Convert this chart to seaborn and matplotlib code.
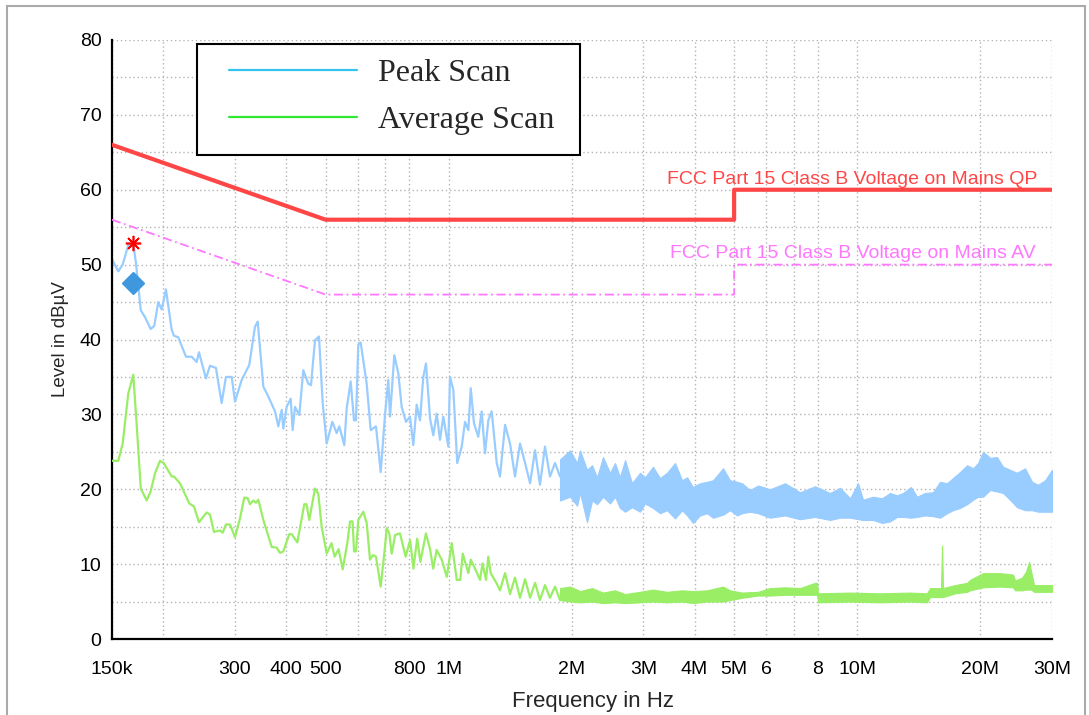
import numpy as np
import pandas as pd
import seaborn as sns
import matplotlib.pyplot as plt
from matplotlib.lines import Line2D
from matplotlib.patches import Rectangle

# --- data (frequency in kHz, level in dBuV) ---
peak_khz = [150, 155.4, 159.3, 164.4, 169.1, 171.7, 176.4, 180.6, 186.5, 190.3, 194.7, 198.5,
            203.3, 210, 212.7, 217.9, 227.6, 235, 241.7, 244.9, 254.7, 260.6, 269.5, 278.3,
            285.1, 294.5, 300, 311.6, 325.2, 335.8, 341, 352, 362, 375.9, 383, 390.4, 393.9,
            401.5, 410.7, 415.3, 420.8, 431.1, 440.9, 453.5, 460.5, 471, 481.7, 491.9, 503,
            519.2, 532.2, 540.1, 555.5, 563.1, 575.9, 586.7, 593.4, 601.1, 609.3, 630.3, 644.7,
            664.2, 682.1, 698.8, 711.9, 718.8, 736.4, 753.2, 767.7, 786.6, 804.5, 819.6, 835.5,
            851.2, 867.2, 880.5, 900.6, 917.5, 935.2, 952.8, 970.7, 998.4, 1008, 1027, 1050,
            1077, 1097, 1118, 1133, 1154, 1182, 1205, 1228, 1251, 1275, 1312, 1336, 1375, 1414,
            1454, 1496, 1539, 1583, 1628, 1674, 1722, 1771, 1822, 1874]
peak_db = [50.7, 49.1, 50.0, 52.6, 52.8, 50.2, 43.9, 43.0, 41.4, 41.8, 45.0, 44.0,
           46.7, 41.3, 40.5, 40.3, 37.7, 37.7, 37.0, 38.3, 34.8, 36.5, 36.2, 31.5,
           35.0, 35.0, 31.7, 34.6, 36.6, 41.7, 42.4, 33.7, 32.4, 30.4, 28.4, 30.6, 28.1,
           31.0, 32.1, 27.9, 31.0, 29.9, 35.9, 34.1, 33.9, 39.9, 40.4, 31.5, 26.1,
           29.0, 27.5, 28.4, 25.9, 30.8, 34.4, 29.2, 29.2, 39.3, 39.6, 34.1, 27.9,
           28.4, 22.3, 29.9, 34.6, 29.7, 37.9, 35.5, 31.0, 29.0, 29.7, 25.9, 31.3,
           29.2, 35.0, 36.8, 29.5, 27.2, 30.1, 26.6, 29.7, 25.7, 35.0, 33.3, 23.5,
           25.7, 29.0, 27.9, 33.5, 28.8, 27.0, 30.4, 24.8, 29.2, 30.4, 23.5, 21.7, 28.6, 26.1,
           21.7, 26.1, 23.5, 20.8, 25.2, 20.6, 25.7, 21.7, 23.5, 21.7]

# dense part of the peak scan (drawn as its lower / upper envelope)
peak_band_khz = [1874, 1983, 2063, 2098, 2182, 2245, 2309, 2388, 2484, 2555, 2627, 2704, 2812,
                 2941, 3026, 3165, 3292, 3426, 3583, 3729, 3836, 3966, 4125, 4291, 4439, 4697,
                 4886, 5082, 5227, 5469, 5720, 6122, 6663, 7248, 7890, 8585, 9082, 9611,
                 10054, 10341, 10941, 11508, 12039, 12522, 12954, 13553, 14019, 14666, 15342,
                 15960, 16602, 17174, 17865, 18585, 19227, 19776, 20340, 21170, 22000, 22770,
                 23680, 24630, 25770, 26810, 27730, 28850, 30000]
peak_band_lo = [18.5, 19.0, 17.8, 19.5, 15.6, 18.5, 18.0, 19.0, 18.1, 19.0, 17.5, 17.0, 17.6,
                17.0, 18.1, 17.5, 16.8, 17.2, 16.1, 17.2, 16.5, 15.5, 16.5, 16.8, 16.2, 16.6,
                17.2, 16.5, 16.8, 17.0, 16.8, 16.2, 16.5, 16.0, 16.3, 15.9, 16.2, 16.2,
                16.0, 15.9, 15.9, 15.5, 15.7, 16.3, 16.3, 16.2, 16.3, 16.5, 16.4,
                16.2, 16.8, 17.2, 17.5, 18.0, 18.6, 19.0, 19.0, 19.9, 19.7, 19.5,
                18.6, 17.6, 17.2, 17.2, 17.0, 17.0, 17.0]
peak_band_hi = [24.0, 25.2, 23.5, 25.2, 22.6, 23.2, 21.6, 24.3, 22.2, 23.5, 21.6, 23.9, 20.8,
                22.2, 21.6, 23.0, 21.5, 22.2, 23.5, 21.2, 21.6, 20.3, 20.8, 21.0, 21.2, 22.8,
                21.2, 21.0, 20.8, 19.9, 20.5, 20.0, 20.8, 19.6, 20.4, 19.5, 20.2, 18.8,
                20.8, 18.6, 19.0, 18.8, 19.5, 19.2, 19.5, 20.3, 19.0, 19.5, 19.6,
                21.0, 20.8, 21.5, 22.3, 23.2, 22.8, 23.5, 25.0, 24.2, 24.3, 23.0,
                22.6, 22.2, 22.8, 21.0, 20.6, 21.2, 22.6]

avg_khz = [150, 155.4, 159.3, 164.4, 169.1, 172.5, 176.4, 182.4, 186.5, 191.1, 196.6, 200.8,
           210, 212.7, 220, 231.9, 238.1, 244.9, 255.8, 260.6, 266.5, 275.7, 279.9, 285.1,
           291.7, 300, 308.6, 316.2, 322.3, 326.5, 332.6, 337.7, 342.1, 352, 369, 379.5,
           386.7, 393.9, 407.5, 413, 426.3, 443.4, 449, 456, 471, 479.8, 489, 503, 517, 526,
           538, 550.6, 565, 573.7, 582, 587, 593.4, 601.1, 618.4, 630.3, 642.1, 653, 664.2,
           682.1, 698.8, 705.5, 716, 725.7, 740, 760.5, 785, 805, 820, 838, 853, 880, 900,
           917, 935, 962, 990, 1018, 1047, 1068, 1083, 1118, 1133, 1154, 1194, 1211, 1235,
           1251, 1268, 1312, 1336, 1375, 1414, 1454, 1496, 1539, 1583, 1628, 1674, 1722,
           1771, 1822, 1874]
avg_db = [23.8, 23.8, 26.1, 32.8, 35.3, 28.4, 20.1, 18.5, 19.7, 22.1, 23.8, 23.5,
          21.7, 21.7, 20.8, 18.1, 17.7, 15.6, 16.9, 16.6, 14.3, 14.5, 14.2, 15.3,
          15.3, 13.6, 16.1, 18.9, 18.8, 18.0, 18.5, 18.2, 18.6, 15.9, 12.3, 12.2,
          11.5, 11.7, 14.0, 14.0, 12.9, 18.0, 18.0, 15.9, 20.1, 19.4, 15.0, 11.4, 12.8, 11.0,
          12.0, 9.3, 12.8, 15.7, 15.7, 11.7, 11.7, 15.9, 17.0, 15.5, 10.6, 11.2, 11.0,
          7.0, 12.3, 14.8, 14.1, 11.4, 13.9, 14.1, 11.0, 13.2, 9.4, 13.4, 10.3, 14.1, 12.1,
          9.4, 11.9, 10.6, 8.3, 12.8, 7.9, 7.9, 11.4, 8.8, 10.6, 9.7, 7.9, 10.1, 7.9,
          11.0, 8.8, 7.4, 6.5, 8.8, 6.0, 8.2, 5.5, 8.0, 5.5, 7.5, 5.2, 7.2,
          5.5, 7.0, 5.2]

# dense part of the average scan (lower / upper envelope)
avg_band_khz = [1874, 1983, 2098, 2245, 2388, 2555, 2704, 2941, 3165, 3426, 3729, 3966, 4291,
                4697, 4886, 5227, 5720, 6122, 6663, 7248, 7890, 7980, 8025, 9611, 11379,
                13478, 14831, 15084, 15960, 16049, 16143, 16230, 17370, 18585, 18902, 20340,
                22380, 24090, 24360, 25340, 25910, 26370, 26670, 27110, 30000]
avg_band_lo = [5.2, 5.0, 4.9, 5.0, 4.8, 4.9, 4.8, 4.9, 5.0, 4.9, 5.0, 4.8, 5.0,
               5.0, 5.2, 5.5, 5.8, 5.8, 5.9, 5.9, 5.9, 5.9, 4.9, 5.0, 4.9,
               5.0, 4.9, 5.6, 5.6, 5.6, 5.6, 5.6, 6.1, 6.3, 6.5, 6.9,
               7.0, 6.9, 6.5, 6.5, 6.6, 6.6, 6.6, 6.3, 6.3]
avg_band_hi = [6.8, 7.0, 6.4, 6.8, 6.2, 6.5, 6.0, 6.3, 6.6, 6.3, 6.5, 6.4, 6.5,
               7.0, 6.5, 6.2, 6.3, 6.8, 6.9, 6.8, 7.5, 7.5, 6.1, 6.2, 6.1,
               6.2, 6.1, 6.8, 6.8, 6.8, 12.5, 6.8, 7.2, 7.5, 7.9, 8.8,
               8.8, 8.6, 7.8, 8.2, 9.0, 10.3, 9.0, 7.2, 7.2]

qp_khz = [150, 500, 5000, 5000, 30000]
qp_db = [66, 56, 56, 60, 60]
av_khz = [150, 500, 5000, 5000, 30000]
av_db = [56, 46, 46, 50, 50]

final_khz = [169]
final_qp = [52.9]
final_av = [47.5]

x_ticks_khz = [150, 200, 300, 400, 500, 600, 700, 800, 1000, 2000, 3000, 4000, 5000,
               6000, 7000, 8000, 10000, 20000, 30000]
x_tick_labels = ['150k', '', '300', '400', '500', '', '', '800', '1M', '2M', '3M', '4M', '5M',
                 '6', '', '8', '10M', '20M', '30M']

peak_color = '#99ccff'
avg_color = '#99ee66'
qp_color = '#ff4646'
av_color = '#ff77ff'

sns.set_style('white')
plt.rcParams['font.family'] = ['Liberation Sans Narrow', 'Liberation Sans', 'DejaVu Sans']

fig = plt.figure(figsize=(10.89, 7.15), dpi=100)
ax = fig.add_axes([112 / 1089, 1 - 639 / 715, 940 / 1089, 599 / 715])

hz = lambda v: np.asarray(v, dtype=float) * 1e3

peak = pd.DataFrame({'f': hz(peak_khz), 'level': peak_db})
avg = pd.DataFrame({'f': hz(avg_khz), 'level': avg_db})

ax.fill_between(hz(peak_band_khz), peak_band_lo, peak_band_hi, color=peak_color, lw=0.8,
                edgecolor=peak_color, zorder=2)
sns.lineplot(data=peak, x='f', y='level', ax=ax, color=peak_color, lw=1.6,
             sort=False, estimator=None, zorder=2)
ax.fill_between(hz(avg_band_khz), avg_band_lo, avg_band_hi, color=avg_color, lw=0.8,
                edgecolor=avg_color, zorder=3)
sns.lineplot(data=avg, x='f', y='level', ax=ax, color=avg_color, lw=1.6,
             sort=False, estimator=None, zorder=3)

sns.lineplot(x=hz(qp_khz), y=qp_db, ax=ax, color=qp_color, lw=3.0, sort=False,
             estimator=None, zorder=4)
sns.lineplot(x=hz(av_khz), y=av_db, ax=ax, color=av_color, lw=1.3, sort=False,
             estimator=None, zorder=4, linestyle=(0, (5, 2, 1, 2)))

ax.plot(hz(final_khz), final_qp, linestyle='none', marker=(8, 2, 0), ms=11, mew=1.2,
        color='red', zorder=6)
ax.plot(hz(final_khz), final_av, linestyle='none', marker='D', ms=11, color='#3f97dd',
        zorder=6)

ax.text(27.6e6, 60.8, 'FCC Part 15 Class B Voltage on Mains QP', color=qp_color,
        fontsize=14, ha='right', va='baseline')
ax.text(27.4e6, 50.9, 'FCC Part 15 Class B Voltage on Mains AV', color=av_color,
        fontsize=14, ha='right', va='baseline')

ax.set_xscale('log')
ax.set_xlim(150e3, 30e6)
ax.set_ylim(0, 80)
ax.set_xticks(hz(x_ticks_khz))
ax.set_xticklabels(x_tick_labels)
ax.xaxis.set_minor_locator(plt.NullLocator())
ax.set_yticks(np.arange(0, 81, 10))
ax.set_yticks(np.arange(5, 80, 10), minor=True)

ax.grid(True, which='both', color='#b4b4b4', linestyle=(0, (1, 2)), lw=1.0)
ax.set_axisbelow(True)
for s in ['top', 'right']:
    ax.spines[s].set_visible(False)
for s in ['left', 'bottom']:
    ax.spines[s].set_color('black')
    ax.spines[s].set_linewidth(1.6)
ax.tick_params(which='both', direction='inout', length=9, width=1.5, color='black',
               labelsize=14, labelcolor='black')
ax.tick_params(axis='x', pad=11)
ax.tick_params(axis='y', pad=3)

ax.set_xlabel('Frequency in Hz', fontsize=16)
ax.xaxis.set_label_coords(0.512, -0.087)
ax.set_ylabel('Level in dBµV', fontsize=13.5, labelpad=8)

# legend: white box with black frame, entries placed inside it
ax.add_patch(Rectangle((85 / 940, 484 / 599), 383 / 940, 111 / 599, transform=ax.transAxes,
                       facecolor='white', edgecolor='black', lw=1.5, zorder=7))
handles = [Line2D([], [], color='#33c4f0', lw=1.6), Line2D([], [], color='#33e833', lw=1.6)]
leg = ax.legend(handles, ['Peak Scan', 'Average Scan'], loc='upper left',
                bbox_to_anchor=(117 / 940, 580 / 599), borderaxespad=0, borderpad=0,
                frameon=False, handlelength=4.0, handletextpad=0.65, labelspacing=0.55,
                prop={'family': 'Liberation Serif', 'size': 23})
leg.set_zorder(8)

fig.patches.append(Rectangle((7 / 1089, -0.05), 1078 / 1089, 1.05 - 6 / 715,
                             transform=fig.transFigure, fill=False, edgecolor='#aaaaaa',
                             lw=1.5))

fig.savefig('out.png', dpi=100)
